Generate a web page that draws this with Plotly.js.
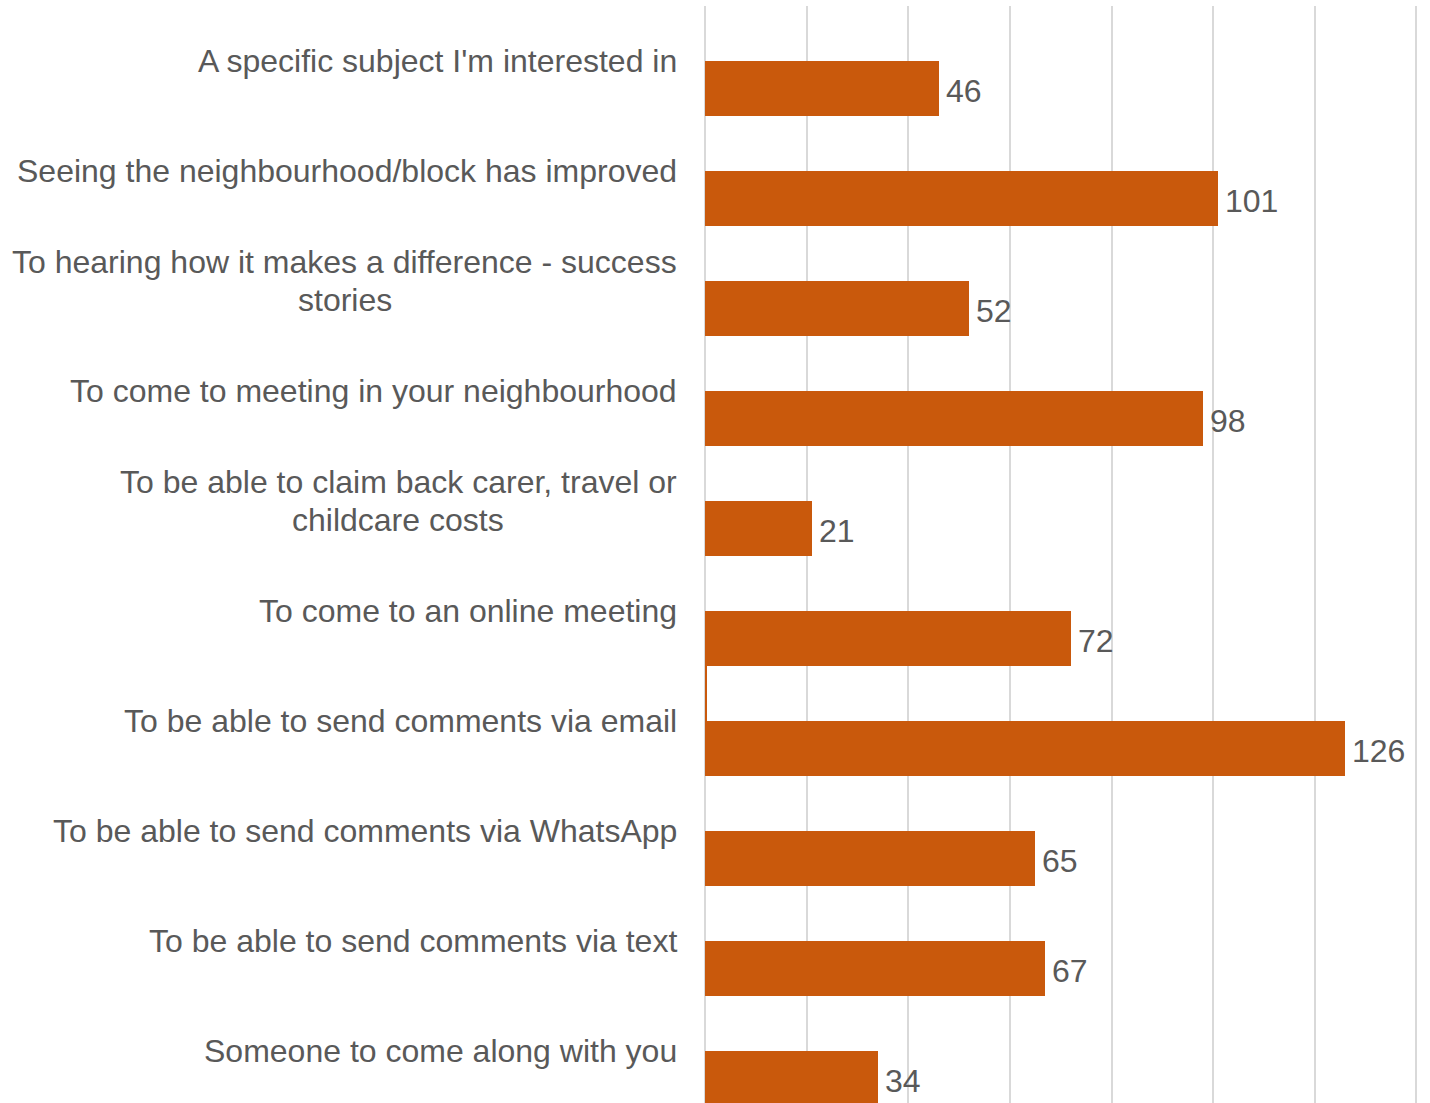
<!DOCTYPE html>
<html>
<head>
<meta charset="utf-8">
<script src="https://cdn.plot.ly/plotly-3.0.1.min.js"></script>
<style>
  html, body { margin: 0; padding: 0; background: #ffffff; }
  #chart { width: 1430px; height: 1103px; }
</style>
</head>
<body>
<div id="chart"></div>
<script>
// ---- Data ----
var categories = [
  "A specific subject I'm interested in",
  "Seeing the neighbourhood/block has improved",
  "To hearing how it makes a difference - success<br>stories",
  "To come to meeting in your neighbourhood",
  "To be able to claim back carer, travel or<br>childcare costs",
  "To come to an online meeting",
  "To be able to send comments via email",
  "To be able to send comments via WhatsApp",
  "To be able to send comments via text",
  "Someone to come along with you"
];
var mainValues  = [46, 101, 52, 98, 21, 72, 126, 65, 67, 34];
var otherValues = [0, 0, 0, 0, 0, 0, 0.3, 0, 0, 0];

var barColor = '#C9590C';
var textColor = '#595959';
var fontFam = 'Liberation Sans, Arial, sans-serif';
var labelSize = 32;
var lineGap = 38;

var ids = categories.map(function (c, i) { return i; });

var traces = [
  {
    type: 'bar', orientation: 'h', name: 'Other',
    x: otherValues, y: ids,
    marker: { color: barColor },
    hoverinfo: 'skip'
  },
  {
    type: 'bar', orientation: 'h', name: 'Responses',
    x: mainValues, y: ids,
    marker: { color: barColor }
  }
];

var annotations = [];
categories.forEach(function (c, i) {
  var lines = c.split('<br>');
  var n = lines.length;
  lines.forEach(function (ln, k) {
    annotations.push({
      xref: 'paper', yref: 'y', x: 0, y: i,
      xanchor: 'right', yanchor: 'middle', xshift: -26,
      yshift: ((n - 1) / 2 - k) * lineGap,
      text: ln, showarrow: false, align: 'center',
      font: { family: fontFam, size: labelSize, color: textColor }
    });
  });
});
// center multi-line labels horizontally relative to their longest line
(function () {
  var idx = 0;
  var cv = document.createElement('canvas').getContext('2d');
  cv.font = labelSize + 'px ' + fontFam;
  categories.forEach(function (c) {
    var lines = c.split('<br>');
    if (lines.length > 1) {
      var w = lines.map(function (l) { return cv.measureText(l).width; });
      var maxW = Math.max.apply(null, w);
      lines.forEach(function (l, k) {
        annotations[idx + k].xshift = -26 - (maxW - w[k]) / 2;
      });
    }
    idx += lines.length;
  });
})();

mainValues.forEach(function (v, i) {
  annotations.push({
    xref: 'x', yref: 'y', x: v, y: i,
    xanchor: 'left', yanchor: 'middle', xshift: 5, yshift: -30,
    text: String(v), showarrow: false,
    font: { family: fontFam, size: labelSize, color: textColor }
  });
});

var layout = {
  width: 1430, height: 1103,
  margin: { l: 705, r: 11, t: 6, b: 0, pad: 0 },
  paper_bgcolor: '#ffffff', plot_bgcolor: '#ffffff',
  barmode: 'group', bargap: 0, bargroupgap: 0,
  showlegend: false,
  xaxis: {
    range: [0, 140.5], dtick: 20, tick0: 0,
    showgrid: true, gridcolor: '#D9D9D9', gridwidth: 2,
    zeroline: true, zerolinecolor: '#D9D9D9', zerolinewidth: 2,
    showticklabels: false, ticks: '', showline: false, fixedrange: true
  },
  yaxis: {
    type: 'linear',
    range: [9.4727, -0.5],
    showgrid: false, zeroline: false, showticklabels: false,
    ticks: '', showline: false, fixedrange: true
  },
  annotations: annotations,
  font: { family: fontFam, color: textColor }
};

Plotly.newPlot('chart', traces, layout, { displayModeBar: false, staticPlot: true });
</script>
</body>
</html>
